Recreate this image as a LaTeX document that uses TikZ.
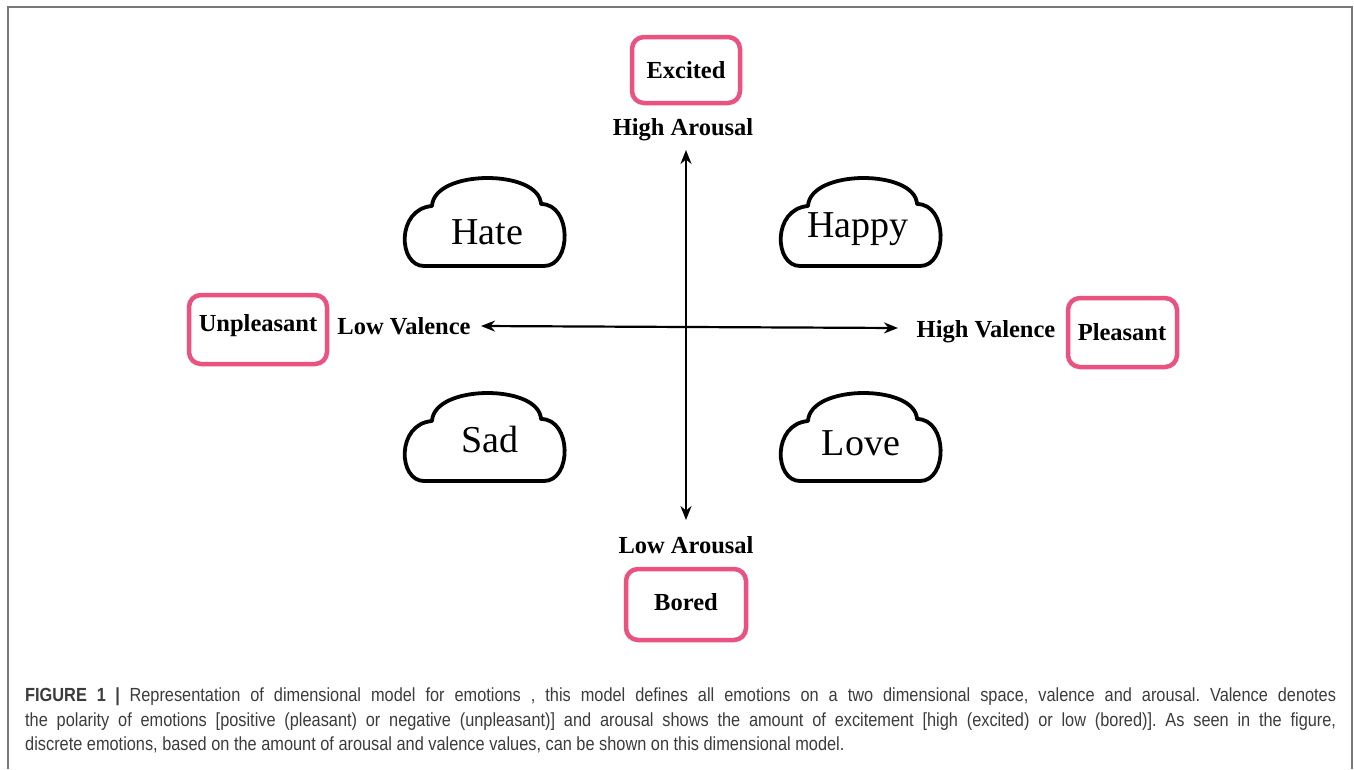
\documentclass[tikz,border=0pt]{standalone}
\usepackage{fontspec}
\setmainfont{Liberation Serif}
\newfontfamily\capfont{Liberation Sans}[FakeStretch=0.86]
\usetikzlibrary{arrows.meta}
\definecolor{pinkbox}{RGB}{234,82,128}
\definecolor{framegray}{RGB}{120,120,120}
\definecolor{captext}{RGB}{60,60,60}
\tikzset{
  emobox/.style={draw=pinkbox, line width=4.5pt, rounded corners=12pt, inner sep=0pt},
  boldlbl/.style={font=\fontsize{24.5}{27}\selectfont\bfseries, inner sep=0pt, anchor=base},
  cloudtxt/.style={font=\fontsize{38}{40}\selectfont, inner sep=0pt, anchor=base},
  cloudline/.style={draw=black, line width=3.8pt, line join=round},
  axis/.style={line width=2.2pt, {Stealth[length=14pt,width=11pt]}-{Stealth[length=14pt,width=11pt]}},
}
\newcommand{\cloudpath}[2]{%
  \begin{scope}[shift={(#1,#2)}]
    \path[cloudline] (20,87) .. controls (-6,87) and (-8,30) .. (28,27)
      .. controls (30,-10) and (135,-10) .. (137,25)
      .. controls (168,25) and (168,87) .. (140,87) -- cycle;
  \end{scope}}
\begin{document}
\begin{tikzpicture}[x=1pt,y=-1pt]
\useasboundingbox (0,0) rectangle (1354,769);
\fill[white] (0,0) rectangle (1354,769);
% frame
\draw[framegray, line width=2pt] (8,769) -- (8,7) -- (1352,7) -- (1352,769);

% clouds
\cloudpath{404}{179}
\cloudpath{780}{179}
\cloudpath{404}{394}
\cloudpath{780}{394}
\node[cloudtxt] (hate) at (487,244) {Hate};
\node[cloudtxt] (happy) at (858,237) {Happy};
\node[cloudtxt] (sad) at (490,452) {Sad};
\node[cloudtxt] (love) at (861,455) {Love};

% boxes
\node[emobox, minimum width=108pt, minimum height=66pt] (excitedbox) at (686,70) {};
\node[boldlbl] (excited) at (686,78) {Excited};
\node[emobox, minimum width=138pt, minimum height=69pt] (unplbox) at (258,329.5) {};
\node[boldlbl] (unpleasant) at (258,331) {Unpleasant};
\node[emobox, minimum width=109pt, minimum height=69pt] (plbox) at (1122.5,332.5) {};
\node[boldlbl] (pleasant) at (1122,340) {Pleasant};
\node[emobox, minimum width=120pt, minimum height=71pt] (boredbox) at (686,604.5) {};
\node[boldlbl] (bored) at (686,610) {Bored};

% axis labels
\node[boldlbl] (higharousal) at (683,135) {High Arousal};
\node[boldlbl] (lowarousal) at (686,553) {Low Arousal};
\node[boldlbl] (lowvalence) at (404,334) {Low Valence};
\node[boldlbl] (highvalence) at (986,337) {High Valence};

% axes
\coordinate (top) at (686,150);
\coordinate (bottom) at (686,520);
\coordinate (left) at (481,326);
\coordinate (right) at (898,328);
\draw[axis] (top) -- (bottom);
\draw[axis] (left) -- (right);

% caption
\node[anchor=north west, inner sep=0pt, text width=1311pt, align=justify, font=\capfont\fontsize{19}{24.5}\selectfont, text=captext] (caption) at (25,688)
{\frenchspacing\hyphenpenalty=10000\exhyphenpenalty=10000\emergencystretch=20pt\textbf{FIGURE 1}\enspace\textbf{|}\enspace Representation of dimensional model for emotions , this model defines all emotions on a two dimensional space, valence and arousal. Valence denotes\linebreak
the polarity of emotions [positive (pleasant) or negative (unpleasant)] and arousal shows the amount of excitement [high (excited) or low (bored)]. As seen in the figure,\linebreak
discrete emotions, based on the amount of arousal and valence values, can be shown on this dimensional model.};
\end{tikzpicture}
\end{document}
